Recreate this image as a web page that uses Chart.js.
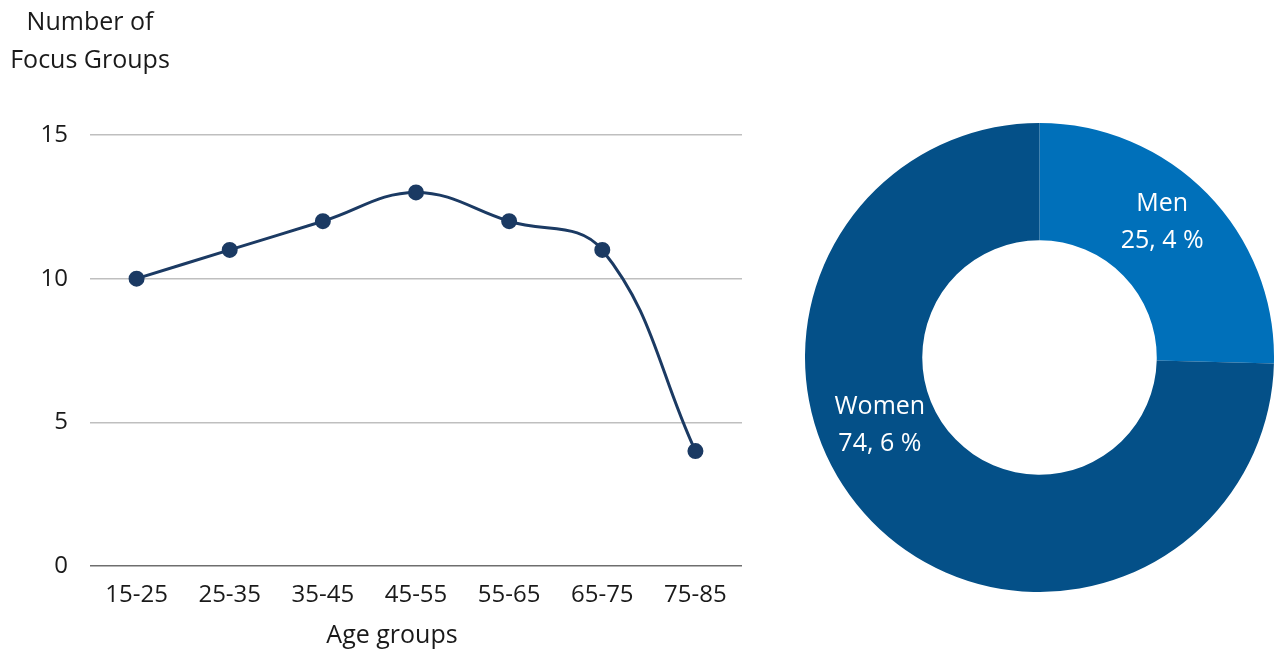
<!DOCTYPE html><html lang="en">
<head>
  <meta charset="UTF-8" />
  <title>Focus Groups</title>
  <style>
    body { margin:0; background:#fff; font-family:"Open Sans", sans-serif; }
    #wrap { position:relative; width:1274px; height:654px; }
    #lineBox { position:absolute; left:0; top:0; width:760px; height:654px; }
    #pieBox { position:absolute; left:805px; top:123px; width:469px; height:469px; }
  </style>
  <script src="https://cdn.jsdelivr.net/npm/chart.js"></script>
</head>
<body>
<div id="wrap">
  <div id="lineBox"><canvas id="lineChart"></canvas></div>
  <div id="pieBox"><canvas id="pieChart"></canvas></div>
</div>
<script>
  // data
  const ageGroups = ['15-25','25-35','35-45','45-55','55-65','65-75','75-85'];
  const focusGroups = [10, 11, 12, 13, 12, 11, 4];
  const yTicks = [0, 5, 10, 15];
  const genders = ['Men','Women'];
  const genderShare = [25.4, 74.6];
  const genderLabels = ['25, 4 %','74, 6 %'];

  const FONT = '"Open Sans", sans-serif', TXT = '#1a1a1a', FS = 24, FT = 25;
  Chart.defaults.font.family = FONT;
  Chart.defaults.color = TXT;

  // axis titles: y title sits flat above the axis, x title a bit left of centre
  const axisTitles = {
    id:'axisTitles',
    afterDraw(c){
      const ctx=c.ctx, y=c.scales.y, x=c.scales.x;
      ctx.save(); ctx.font=FT+'px '+FONT; ctx.fillStyle=TXT; ctx.textAlign='center'; ctx.textBaseline='middle';
      ctx.fillText('Number of', y.right, 23); ctx.fillText('Focus Groups', y.right, 61);
      ctx.fillText('Age groups', (x.left+x.right)/2-24, x.bottom-18);
      ctx.restore();
    }
  };

  new Chart(document.getElementById('lineChart'), {
    type:'line',
    data:{ labels:ageGroups, datasets:[{ data:focusGroups, borderColor:'#1b3a63', backgroundColor:'#1b3a63', borderWidth:3, tension:0.4, pointRadius:6.5, pointHoverRadius:6.5, clip:false }] },
    options:{
      responsive:true, maintainAspectRatio:false, animation:false,
      layout:{ padding:{ top:135, right:18, bottom:0, left:0 } },
      plugins:{ legend:{display:false}, tooltip:{enabled:false} },
      scales:{
        x:{ offset:true, grid:{display:false, drawTicks:false}, border:{display:false},
            ticks:{ font:{size:FS}, padding:15, color:TXT, maxRotation:0 },
            afterFit(s){ s.height=88; } },
        y:{ min:0, max:15, afterBuildTicks(s){ s.ticks=yTicks.map(v=>({value:v})); },
            grid:{ drawTicks:false, lineWidth:1.5, color:ctx=>ctx.tick && ctx.tick.value===0?'#6e6e6e':'#bfbfbf' },
            border:{display:false},
            ticks:{ font:{size:FS}, padding:22, color:TXT },
            afterFit(s){ s.width=90; } }
      }
    },
    plugins:[axisTitles]
  });

  // white labels inside the ring: share of the arc's sweep and of its thickness
  const labelAng = [0.461, 0.579];
  const labelRad = [0.56, 0.48];
  const ringLabels = {
    id:'ringLabels',
    afterDraw(c){
      const ctx=c.ctx, meta=c.getDatasetMeta(0);
      ctx.save(); ctx.font=FT+'px '+FONT; ctx.fillStyle='#fff'; ctx.textAlign='center'; ctx.textBaseline='middle';
      meta.data.forEach((a,i)=>{
        const p=a.getProps(['x','y','startAngle','endAngle','innerRadius','outerRadius'],true);
        const ang=p.startAngle+(p.endAngle-p.startAngle)*labelAng[i];
        const r=p.innerRadius+(p.outerRadius-p.innerRadius)*labelRad[i];
        const x=p.x+Math.cos(ang)*r, y=p.y+Math.sin(ang)*r;
        ctx.fillText(genders[i], x, y-18.5); ctx.fillText(genderLabels[i], x, y+18.5);
      });
      ctx.restore();
    }
  };

  new Chart(document.getElementById('pieChart'), {
    type:'doughnut',
    data:{ labels:genders, datasets:[{ data:genderShare, backgroundColor:['#0070ba','#045088'], borderWidth:0 }] },
    options:{
      responsive:true, maintainAspectRatio:false, animation:false, cutout:'50%',
      layout:{ padding:0 },
      plugins:{ legend:{display:false}, tooltip:{enabled:false} }
    },
    plugins:[ringLabels]
  });
</script>
</body>
</html>
